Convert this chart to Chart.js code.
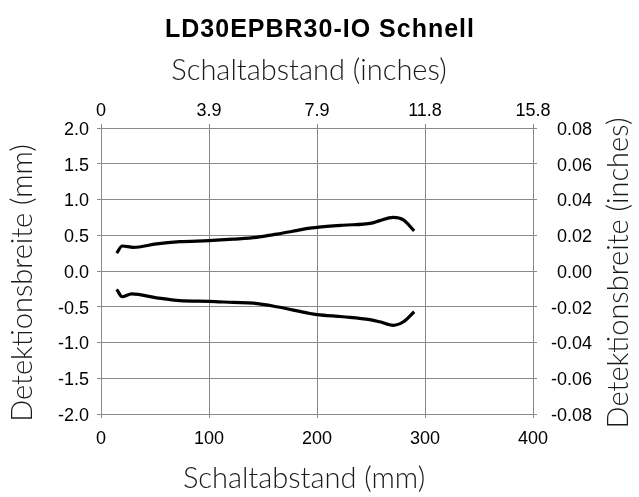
<!DOCTYPE html>
<html><head><meta charset="utf-8">
<script src="https://cdn.jsdelivr.net/npm/chart.js@4/dist/chart.umd.min.js"></script>
<style>html,body{margin:0;padding:0;background:#fff}</style>
</head><body>
<canvas id="c" width="639" height="497"></canvas>
<script>
// ---- text ----
const chartTitle = 'LD30EPBR30-IO Schnell';
const xTitleMm = 'Schaltabstand (mm)';
const xTitleIn = 'Schaltabstand (inches)';
const yTitleMm = 'Detektionsbreite (mm)';
const yTitleIn = 'Detektionsbreite (inches)';

// ---- ticks ----
const distTicksMm = [0, 100, 200, 300, 400];
const distTickLabelsMm = ['0', '100', '200', '300', '400'];
const distTickLabelsIn = ['0', '3.9', '7.9', '11.8', '15.8'];
const widthTicksMm = [-2.0, -1.5, -1.0, -0.5, 0.0, 0.5, 1.0, 1.5, 2.0];
const widthTickLabelsMm = ['-2.0', '-1.5', '-1.0', '-0.5', '0.0', '0.5', '1.0', '1.5', '2.0'];
const widthTickLabelsIn = ['-0.08', '-0.06', '-0.04', '-0.02', '0.00', '0.02', '0.04', '0.06', '0.08'];

// ---- data (mm) ----
const upperDist  = [14.5, 19.7, 30, 51.5, 73, 100, 122.5, 144, 162.7, 181, 193.5, 200, 224, 250.6, 258, 270.6, 280, 290];
const upperWidth = [0.25, 0.35, 0.33, 0.38, 0.41, 0.425, 0.445, 0.47, 0.515, 0.565, 0.60, 0.61, 0.64, 0.67, 0.705, 0.75, 0.715, 0.56];
const lowerDist  = [14.5, 19.7, 28.4, 51.5, 73, 100, 122.5, 141, 162.7, 193.5, 200, 224, 249, 258, 270.6, 280, 290];
const lowerWidth = [-0.257, -0.36, -0.32, -0.375, -0.415, -0.425, -0.44, -0.45, -0.5, -0.595, -0.61, -0.64, -0.68, -0.71, -0.76, -0.71, -0.57];

const toPts = (xs, ys) => xs.map((x, i) => ({x: x, y: ys[i]}));

const GRID = '#8a8a8a';
const tickFont = {family: '"Liberation Sans", Arial, sans-serif', size: 18};
const titleFontFamily = 'Lato, "Open Sans", sans-serif';

const titlesPlugin = {
  id: 'titles',
  afterDraw(chart) {
    const ctx = chart.ctx;
    ctx.save();
    ctx.fillStyle = '#000';
    ctx.textAlign = 'center';
    ctx.textBaseline = 'alphabetic';
    ctx.font = 'bold 25px "Liberation Sans", Arial, sans-serif';
    ctx.letterSpacing = '1px';
    ctx.fillText(chartTitle, 320, 37);
    ctx.letterSpacing = '0px';
    ctx.fillStyle = '#1a1a1a';
    ctx.font = '300 29px ' + titleFontFamily;
    ctx.fillText(xTitleIn, 309, 80);
    ctx.fillText(xTitleMm, 304, 488);
    ctx.translate(32, 283);
    ctx.rotate(-Math.PI / 2);
    ctx.fillText(yTitleMm, 0, 0);
    ctx.setTransform(1, 0, 0, 1, 0, 0);
    ctx.translate(628, 273);
    ctx.rotate(-Math.PI / 2);
    ctx.fillText(yTitleIn, 0, 0);
    ctx.restore();
  }
};

const fixTicks = (vals) => (scale) => { scale.ticks = vals.map(v => ({value: v})); };

new Chart(document.getElementById('c'), {
  type: 'scatter',
  data: {
    datasets: [
      {data: toPts(upperDist, upperWidth), showLine: true, borderColor: '#000', borderWidth: 3.2,
       pointRadius: 0, cubicInterpolationMode: 'monotone', fill: false},
      {data: toPts(lowerDist, lowerWidth), showLine: true, borderColor: '#000', borderWidth: 3.2,
       pointRadius: 0, cubicInterpolationMode: 'monotone', fill: false}
    ]
  },
  options: {
    responsive: false,
    animation: false,
    layout: {padding: {left: 0, right: 47, top: 0, bottom: 0}},
    plugins: {legend: {display: false}, tooltip: {enabled: false}, title: {display: false}},
    scales: {
      x: {
        type: 'linear', position: 'bottom', min: 0, max: 400,
        afterBuildTicks: fixTicks(distTicksMm),
        afterFit: (s) => { s.height = 83; },
        grid: {color: GRID, lineWidth: 1, tickLength: 4, drawTicks: true},
        border: {color: GRID, width: 1},
        ticks: {font: tickFont, color: '#000', padding: 10, maxRotation: 0,
                callback: (v, i) => distTickLabelsMm[i]}
      },
      x2: {
        type: 'linear', position: 'top', min: 0, max: 400,
        afterBuildTicks: fixTicks(distTicksMm),
        afterFit: (s) => { s.height = 128; },
        grid: {color: GRID, lineWidth: 1, tickLength: 4, drawOnChartArea: false},
        border: {color: GRID, width: 1},
        ticks: {font: tickFont, color: '#000', padding: 2, maxRotation: 0,
                callback: (v, i) => distTickLabelsIn[i]}
      },
      y: {
        type: 'linear', position: 'left', min: -2, max: 2,
        afterBuildTicks: fixTicks(widthTicksMm),
        afterFit: (s) => { s.width = 101; },
        grid: {color: GRID, lineWidth: 1, tickLength: 4},
        border: {color: GRID, width: 1},
        ticks: {font: tickFont, color: '#000', padding: 8, labelOffset: 2,
                callback: (v, i) => widthTickLabelsMm[i]}
      },
      y2: {
        type: 'linear', position: 'right', min: -2, max: 2,
        afterBuildTicks: fixTicks(widthTicksMm),
        afterFit: (s) => { s.width = 59; },
        grid: {color: GRID, lineWidth: 1, tickLength: 4, drawOnChartArea: false},
        border: {color: GRID, width: 1},
        ticks: {font: tickFont, color: '#000', padding: 6, crossAlign: 'far', labelOffset: 2,
                callback: (v, i) => widthTickLabelsIn[i]}
      }
    }
  },
  plugins: [titlesPlugin]
});
</script>
</body></html>
